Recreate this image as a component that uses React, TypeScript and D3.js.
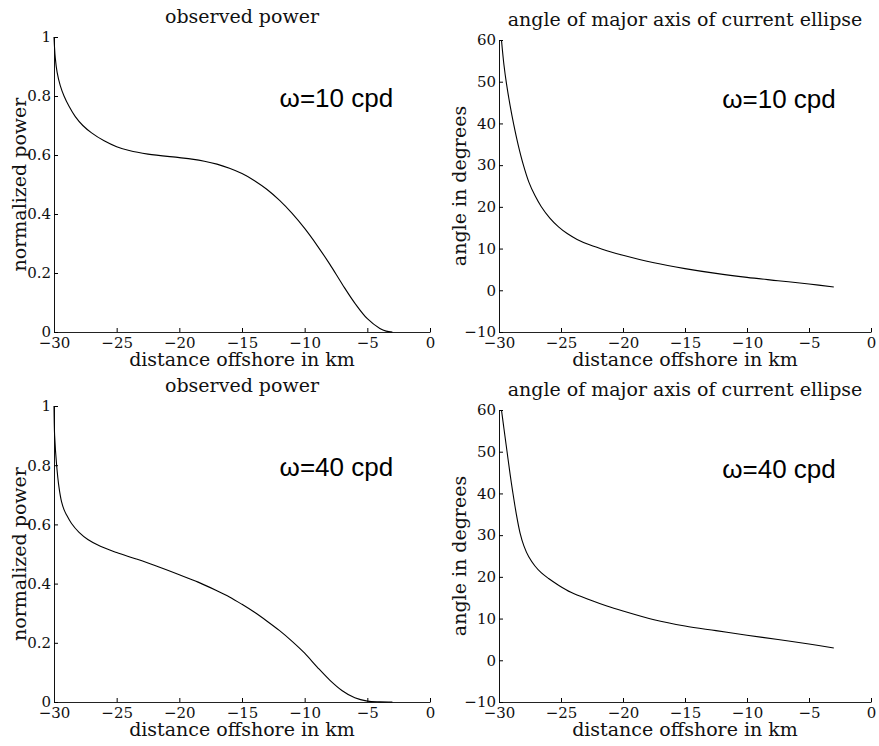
import React, {useEffect, useRef} from 'react';
import * as d3 from 'd3';

// distance offshore (km) and normalized power, omega = 10 cpd
const power10: [number, number][] = [
    [-30, 1.0], [-29.9, 0.93], [-29.75, 0.88], [-29.5, 0.835], [-29.2, 0.8], [-28.8, 0.765],
    [-28.3, 0.73], [-27.7, 0.7], [-27, 0.675], [-26, 0.648], [-25, 0.628], [-24, 0.615],
    [-22.5, 0.603], [-20, 0.591], [-19, 0.586], [-18, 0.579], [-17, 0.569], [-16, 0.555],
    [-15, 0.537], [-14, 0.513], [-13, 0.483], [-12, 0.446], [-11, 0.402], [-10, 0.351],
    [-9, 0.293], [-8, 0.23], [-7, 0.162], [-6, 0.098], [-5, 0.045], [-4, 0.012],
    [-3.5, 0.003], [-3, 0.0]
];

// omega = 40 cpd
const power40: [number, number][] = [
    [-30, 1.0], [-29.95, 0.9], [-29.79, 0.8], [-29.6, 0.725], [-29.4, 0.677], [-29.2, 0.65],
    [-29, 0.632], [-28.6, 0.603], [-28, 0.573], [-27.3, 0.549], [-26.3, 0.526], [-25, 0.505],
    [-23.5, 0.484], [-22, 0.462], [-20, 0.43], [-18.5, 0.405], [-17, 0.376], [-16, 0.355],
    [-15, 0.33], [-14, 0.303], [-13, 0.273], [-12, 0.241], [-11, 0.205], [-10, 0.165],
    [-9, 0.118], [-8, 0.074], [-7, 0.038], [-6, 0.014], [-5, 0.003], [-4, 0.0005], [-3, 0.0]
];

// angle of major axis (degrees), omega = 10 cpd
const angle10: [number, number][] = [
    [-29.8, 60], [-29.6, 54], [-29.4, 49.6], [-29.1, 44.2], [-28.81, 39.7], [-28.45, 34.8],
    [-28.06, 30.3], [-27.6, 26.0], [-27.1, 22.7], [-26.6, 20.1], [-25.9, 17.3], [-25.2, 15.2],
    [-24.5, 13.6], [-23.7, 12.2], [-22.7, 10.9], [-21.3, 9.5], [-20, 8.4], [-17.5, 6.6],
    [-15, 5.2], [-12.5, 4.05], [-10, 3.1], [-7.5, 2.3], [-5, 1.5], [-3, 0.8]
];

// omega = 40 cpd
const angle40: [number, number][] = [
    [-29.8, 60], [-29.6, 55.5], [-29.35, 50], [-29.1, 44.5], [-28.9, 40.5], [-28.6, 35],
    [-28.3, 30.5], [-28, 27.5], [-27.6, 24.8], [-27.1, 22.6], [-26.6, 21.0], [-26, 19.6],
    [-25.2, 18.0], [-24.2, 16.3], [-22.7, 14.5], [-21.3, 13.0], [-20, 11.8], [-17.5, 9.7],
    [-15, 8.2], [-12.5, 7.1], [-10, 6.0], [-7.5, 5.0], [-5, 3.9], [-3, 2.94]
];

const xTicks = [-30, -25, -20, -15, -10, -5, 0];
const powerTicks = [0, 0.2, 0.4, 0.6, 0.8, 1];
const angleTicks = [-10, 0, 10, 20, 30, 40, 50, 60];

const serif = "'DejaVu Serif', serif";

type Panel = {
    data: [number, number][];
    left: number; right: number; top: number; bottom: number;
    yDomain: [number, number];
    yTicks: number[];
    title: string;
    ylabel: string;
    ylabelX: number;
    note: string;
    noteAt: [number, number];
};

const panels: Panel[] = [
    {data: power10, left: 54, right: 430, top: 37, bottom: 332, yDomain: [0, 1], yTicks: powerTicks,
        title: 'observed power', ylabel: 'normalized power', ylabelX: 26, note: 'ω=10 cpd', noteAt: [-12, 0.763]},
    {data: angle10, left: 499, right: 871, top: 40, bottom: 332, yDomain: [-10, 60], yTicks: angleTicks,
        title: 'angle of major axis of current ellipse', ylabel: 'angle in degrees', ylabelX: 466, note: 'ω=10 cpd', noteAt: [-12, 43.7]},
    {data: power40, left: 54, right: 430, top: 406, bottom: 702, yDomain: [0, 1], yTicks: powerTicks,
        title: 'observed power', ylabel: 'normalized power', ylabelX: 26, note: 'ω=40 cpd', noteAt: [-12, 0.763]},
    {data: angle40, left: 499, right: 871, top: 410, bottom: 702, yDomain: [-10, 60], yTicks: angleTicks,
        title: 'angle of major axis of current ellipse', ylabel: 'angle in degrees', ylabelX: 466, note: 'ω=40 cpd', noteAt: [-12, 43.7]},
];

export default function App() {
    const svgRef = useRef<SVGSVGElement>(null);

    useEffect(() => {
        const svg = d3.select(svgRef.current);
        svg.selectAll('*').remove();

        for (const p of panels) {
            const x = d3.scaleLinear().domain([-30, 0]).range([p.left, p.right]);
            const y = d3.scaleLinear().domain(p.yDomain).range([p.bottom, p.top]);
            const g = svg.append('g');

            // x axis, ticks pointing inward
            const xAxis = d3.axisBottom(x).tickValues(xTicks).tickSizeInner(-4).tickSizeOuter(0)
                .tickPadding(8).tickFormat(d => String(d).replace('-', '−'));
            g.append('g').attr('transform', `translate(0,${p.bottom})`).call(xAxis)
                .attr('font-family', serif).attr('font-size', 15)
                .call(s => s.select('.domain').attr('stroke', '#222'))
                .call(s => s.selectAll('text').attr('fill', '#111').attr('dy', '0.5em'));

            // y axis
            const yAxis = d3.axisLeft(y).tickValues(p.yTicks).tickSizeInner(-4).tickSizeOuter(0)
                .tickPadding(3).tickFormat(d => String(d).replace('-', '−'));
            g.append('g').attr('transform', `translate(${p.left},0)`).call(yAxis)
                .attr('font-family', serif).attr('font-size', 15)
                .call(s => s.select('.domain').attr('stroke', '#111'))
                .call(s => s.selectAll('text').attr('fill', '#111'));

            const line = d3.line<[number, number]>()
                .x(d => x(d[0])).y(d => y(d[1]))
                .curve(d3.curveCatmullRom.alpha(0.5));
            g.append('path').datum(p.data).attr('d', line)
                .attr('fill', 'none').attr('stroke', '#000').attr('stroke-width', 1.1);

            g.append('text').attr('x', (p.left + p.right) / 2).attr('y', p.top - 14)
                .attr('text-anchor', 'middle').attr('font-family', serif).attr('font-size', 19)
                .attr('fill', '#111').text(p.title);

            g.append('text').attr('x', (p.left + p.right) / 2).attr('y', p.bottom + 34)
                .attr('text-anchor', 'middle').attr('font-family', serif).attr('font-size', 19)
                .attr('fill', '#111').text('distance offshore in km');

            g.append('text')
                .attr('transform', `translate(${p.ylabelX},${(p.top + p.bottom) / 2}) rotate(-90)`)
                .attr('text-anchor', 'middle').attr('font-family', serif).attr('font-size', 19)
                .attr('fill', '#111').text(p.ylabel);

            g.append('text').attr('x', x(p.noteAt[0])).attr('y', y(p.noteAt[1]))
                .attr('font-family', "'Liberation Sans', Arial, sans-serif").attr('font-size', 26)
                .attr('fill', '#000').text(p.note);
        }
    }, []);

    return (
        <div style={{position: 'absolute', left: 0, top: 0}}>
            <svg ref={svgRef} width={879} height={746} style={{display: 'block', background: '#fff'}}/>
        </div>
    );
}
